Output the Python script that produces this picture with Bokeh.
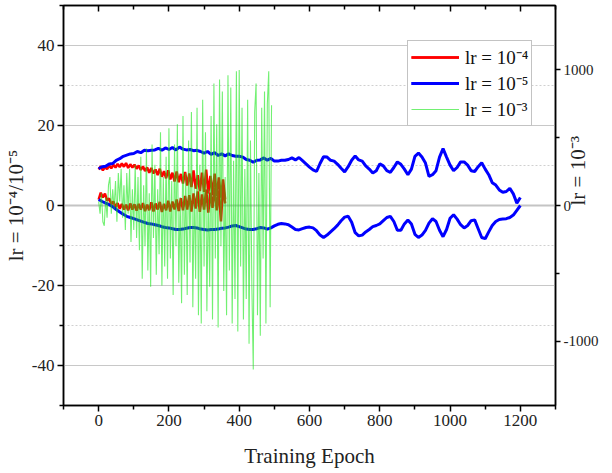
import math
from bokeh.plotting import figure
from bokeh.models import (Range1d, LinearAxis, FixedTicker, Span, Legend, LegendItem,
                          PrintfTickFormatter, CustomJSTickFormatter)
from bokeh.embed import file_html
from bokeh.resources import INLINE

# ---- data ----
epoch_blue = list(range(0, 1201, 10))
blue_upper = [
    9.2, 9.7, 9.8, 10.4, 10.5, 11.3, 11.7, 12.3, 12.6, 12.9,
    13.0, 13.5, 13.2, 13.8, 13.7, 13.8, 13.9, 14.3, 13.8, 14.4,
    14.0, 14.5, 13.9, 14.6, 14.1, 13.9, 14.0, 13.7, 13.8, 13.5,
    13.1, 13.5, 12.8, 13.2, 12.5, 12.9, 12.4, 12.9, 12.5, 12.3,
    12.3, 12.1, 11.5, 11.3, 10.8, 11.3, 11.4, 11.9, 11.3, 11.8,
    11.1, 11.1, 11.3, 11.3, 11.5, 11.9, 11.4, 12.0, 11.2, 10.4,
    9.6, 8.9, 8.5, 10.5, 12.2, 12.1, 11.3, 11.1, 10.3, 9.3,
    8.4, 9.7, 11.3, 12.4, 11.4, 11.1, 9.9, 9.1, 8.1, 8.7,
    10.4, 9.9, 8.7, 8.3, 9.5, 10.9, 10.3, 9.1, 7.7, 9.1,
    12.3, 13.1, 12.1, 10.6, 7.3, 7.7, 8.7, 12.1, 14.2, 12.1,
    10.1, 8.7, 9.5, 10.9, 10.9, 10.1, 8.7, 8.5, 9.7, 10.7,
    9.1, 7.7, 5.7, 5.1, 3.9, 3.3, 3.5, 4.3, 2.9, 0.6,
    2.0,
]
blue_lower = [
    1.5, 1.0, 0.6, 0.2, -0.3, -1.0, -1.6, -2.2, -2.7, -3.0,
    -3.3, -3.6, -3.9, -4.2, -4.5, -4.6, -4.8, -5.0, -5.3, -5.5,
    -5.6, -5.8, -6.0, -6.0, -5.9, -5.7, -5.5, -5.5, -5.6, -5.9,
    -6.0, -6.1, -6.0, -6.0, -5.9, -5.7, -5.6, -5.4, -5.1, -5.0,
    -5.3, -5.6, -5.9, -6.0, -6.0, -5.8, -5.5, -5.6, -5.9, -5.6,
    -5.1, -4.7, -4.5, -4.6, -4.8, -5.4, -6.0, -6.1, -5.8, -5.5,
    -5.4, -5.6, -6.3, -7.4, -8.0, -7.4, -6.6, -5.8, -4.9, -3.8,
    -2.9, -2.7, -4.2, -6.8, -7.6, -7.4, -6.6, -6.0, -5.3, -5.0,
    -4.6, -3.8, -3.0, -2.7, -4.0, -6.2, -6.2, -4.6, -3.6, -4.6,
    -7.2, -8.0, -7.4, -6.2, -4.4, -3.3, -4.0, -6.2, -7.8, -6.0,
    -3.2, -2.3, -3.4, -4.8, -5.6, -5.0, -3.8, -3.6, -5.8, -8.0,
    -8.3, -6.6, -5.0, -4.0, -3.5, -3.4, -3.3, -3.0, -2.4, -1.2,
    0.0,
]

epoch_red = list(range(0, 361, 6))
red_upper = [
    9.0, 9.8, 8.8, 9.6, 9.1, 10.0, 9.3, 10.2, 9.5, 10.4,
    9.6, 10.5, 9.7, 10.6, 9.4, 10.3, 9.5, 10.2, 9.2, 10.0,
    8.9, 9.8, 8.6, 9.5, 8.2, 9.4, 8.0, 9.0, 7.6, 9.2,
    7.2, 8.6, 6.8, 8.8, 6.5, 8.2, 6.0, 8.5, 5.8, 7.9,
    5.5, 8.4, 5.0, 8.0, 4.6, 8.8, 4.2, 7.6, 3.6, 8.2,
    3.4, 9.0, 3.0, 7.4, 2.6, 8.0, 2.4, 7.0, 2.0, 6.5,
    1.5,
]
red_lower = [
    1.5, 3.2, 2.0, 3.0, 1.2, 1.8, 0.3, 1.0, -0.4, 0.6,
    -0.8, 0.4, -1.0, 0.2, -1.2, 0.5, -1.0, 0.3, -1.3, 0.4,
    -1.0, 0.6, -1.4, 0.2, -1.2, 0.8, -1.5, 0.5, -1.0, 0.9,
    -1.6, 0.4, -1.2, 1.2, -1.5, 1.0, -1.0, 1.5, -1.4, 1.8,
    -1.2, 2.4, -1.0, 2.6, -1.5, 3.0, -0.8, 3.5, -1.6, 2.8,
    -1.0, 4.0, -1.8, 3.2, -0.6, 4.5, -1.2, 3.8, -4.0, 5.0,
    0.5,
]

epoch_green = list(range(0, 493, 4))
green_vals = [
    30, -60, 90, -120, -150, 60, -90, 150, 210, -60,
    120, -30, 180, -120, 240, 30, 270, -90, 150, -180,
    240, -60, 270, -270, 120, -180, 300, -240, 210, -330,
    360, -540, 150, -300, 420, -480, 90, -600, 450, -240,
    300, -510, 120, -360, 540, -590, 210, -450, 360, -540,
    570, -390, 180, -660, 450, -300, 600, -570, 60, -720,
    660, -510, 240, -660, 480, -420, 690, -750, 150, -540,
    720, -810, 300, -870, 780, -450, 540, -780, 120, -600,
    660, -840, 900, -390, 600, -900, 930, -300, 840, -630,
    210, -810, 960, -480, 870, -870, 330, -690, 990, -930,
    1000, -450, 720, -840, 270, -690, 780, -1020, 480, -600,
    -1210, 690, 900, -810, 240, -960, 720, -390, 840, -870,
    750, 990, -750, 740,
]

x_ticks = [0, 200, 400, 600, 800, 1000, 1200]
x_minor = [-100, 100, 300, 500, 700, 900, 1100, 1300]
yl_ticks = [-40, -20, 0, 20, 40]
yl_minor = [-50, -30, -10, 10, 30, 50]
yr_ticks = [-1000, 0, 1000]
yr_minor = [-1500, -500, 500, 1500]

SERIF = "Liberation Serif"

p = figure(width=604, height=470,
           x_range=Range1d(-100, 1300), y_range=Range1d(-50, 50),
           output_backend="svg", toolbar_location=None,
           min_border_left=57, min_border_right=45,
           min_border_top=5, min_border_bottom=63)
p.extra_y_ranges = {"lr3": Range1d(-1475, 1475)}

p.outline_line_color = "black"
p.outline_line_width = 1.5
p.background_fill_color = "white"

# grid
p.xgrid.visible = False
p.ygrid.ticker = FixedTicker(ticks=yl_ticks, minor_ticks=yl_minor)
p.ygrid.grid_line_color = "#c8c8c8"
p.ygrid.grid_line_width = 1
p.ygrid.minor_grid_line_color = "#d0d0d0"
p.ygrid.minor_grid_line_dash = "2 2"

p.add_layout(Span(location=0, dimension="width", line_color="#c4c4c4", line_width=2, level="underlay"))

def style_axis(ax, size="17px"):
    ax.axis_line_color = "black"
    ax.axis_line_width = 1.5
    ax.major_tick_line_color = "black"
    ax.minor_tick_line_color = "black"
    ax.major_tick_line_width = 1.5
    ax.minor_tick_line_width = 1.5
    ax.major_label_text_font = SERIF
    ax.major_label_text_font_size = size
    ax.major_label_text_color = "#222222"
    ax.axis_label_text_font = SERIF
    ax.axis_label_text_font_style = "normal"
    ax.axis_label_text_color = "#222222"
    ax.axis_label_text_font_size = "21px"
    ax.major_tick_in = 0
    ax.major_tick_out = 6
    ax.minor_tick_in = 0
    ax.minor_tick_out = 4
    ax.major_label_standoff = 3

xa = p.xaxis[0]
xa.ticker = FixedTicker(ticks=x_ticks, minor_ticks=x_minor)
xa.formatter = PrintfTickFormatter(format="%d")
style_axis(xa)
xa.axis_label = "Training Epoch"
xa.axis_label_standoff = 15

ya = p.yaxis[0]
ya.ticker = FixedTicker(ticks=yl_ticks, minor_ticks=yl_minor)
ya.formatter = PrintfTickFormatter(format="%d")
style_axis(ya)
ya.axis_label = "lr = 10\u207b\u2074/10\u207b\u2075"
ya.axis_label_standoff = 1

# inner right axis: ticks and tick labels only
ra = LinearAxis(y_range_name="lr3", ticker=FixedTicker(ticks=yr_ticks, minor_ticks=yr_minor),
                formatter=PrintfTickFormatter(format="%d"))
style_axis(ra, "15px")
ra.major_tick_out = 5
ra.minor_tick_out = 4
ra.major_label_standoff = 3
p.add_layout(ra, "right")

# outer right axis: only the title, pulled back over the tick-label column
rt = LinearAxis(y_range_name="lr3", ticker=FixedTicker(ticks=[], minor_ticks=[]),
                axis_label="lr = 10\u207b\u00b3")
style_axis(rt, "15px")
rt.axis_line_color = None
rt.major_tick_out = 0
rt.minor_tick_out = 0
rt.major_label_standoff = 0
try:
    rt.axis_label_standoff = -24
except Exception:
    rt.axis_label_standoff = 0
try:
    rt.axis_label_orientation = math.pi / 2
except Exception:
    pass
p.add_layout(rt, "right")

ta = LinearAxis(ticker=FixedTicker(ticks=x_ticks, minor_ticks=x_minor),
                formatter=CustomJSTickFormatter(code="return ''"))
style_axis(ta)
ta.major_tick_in = 6
ta.major_tick_out = 0
ta.minor_tick_in = 4
ta.minor_tick_out = 0
ta.major_label_standoff = 0
p.add_layout(ta, "above")

# series
r1 = p.line(epoch_red, red_upper, line_color="#ff0000", line_width=2.5)
r2 = p.line(epoch_red, red_lower, line_color="#ff0000", line_width=2.5)
b1 = p.line(epoch_blue, blue_upper, line_color="#0000ff", line_width=3)
b2 = p.line(epoch_blue, blue_lower, line_color="#0000ff", line_width=3)
g1 = p.line(epoch_green, green_vals, line_color="#14e614", line_alpha=0.6, line_width=1.1,
            y_range_name="lr3")

legend = Legend(items=[
    LegendItem(label="lr = 10\u207b\u2074", renderers=[r1, r2]),
    LegendItem(label="lr = 10\u207b\u2075", renderers=[b1, b2]),
    LegendItem(label="lr = 10\u207b\u00b3", renderers=[g1]),
], location=(344, 279))
legend.label_text_font = SERIF
legend.label_text_font_size = "19px"
legend.label_text_color = "#111111"
legend.glyph_width = 48
legend.glyph_height = 20
legend.label_height = 20
legend.label_standoff = 6
legend.spacing = 0
legend.padding = 3
legend.margin = 0
legend.border_line_color = "#888888"
legend.border_line_width = 1
legend.background_fill_alpha = 1
p.add_layout(legend)

open("out.html", "w").write(file_html(p, INLINE))
